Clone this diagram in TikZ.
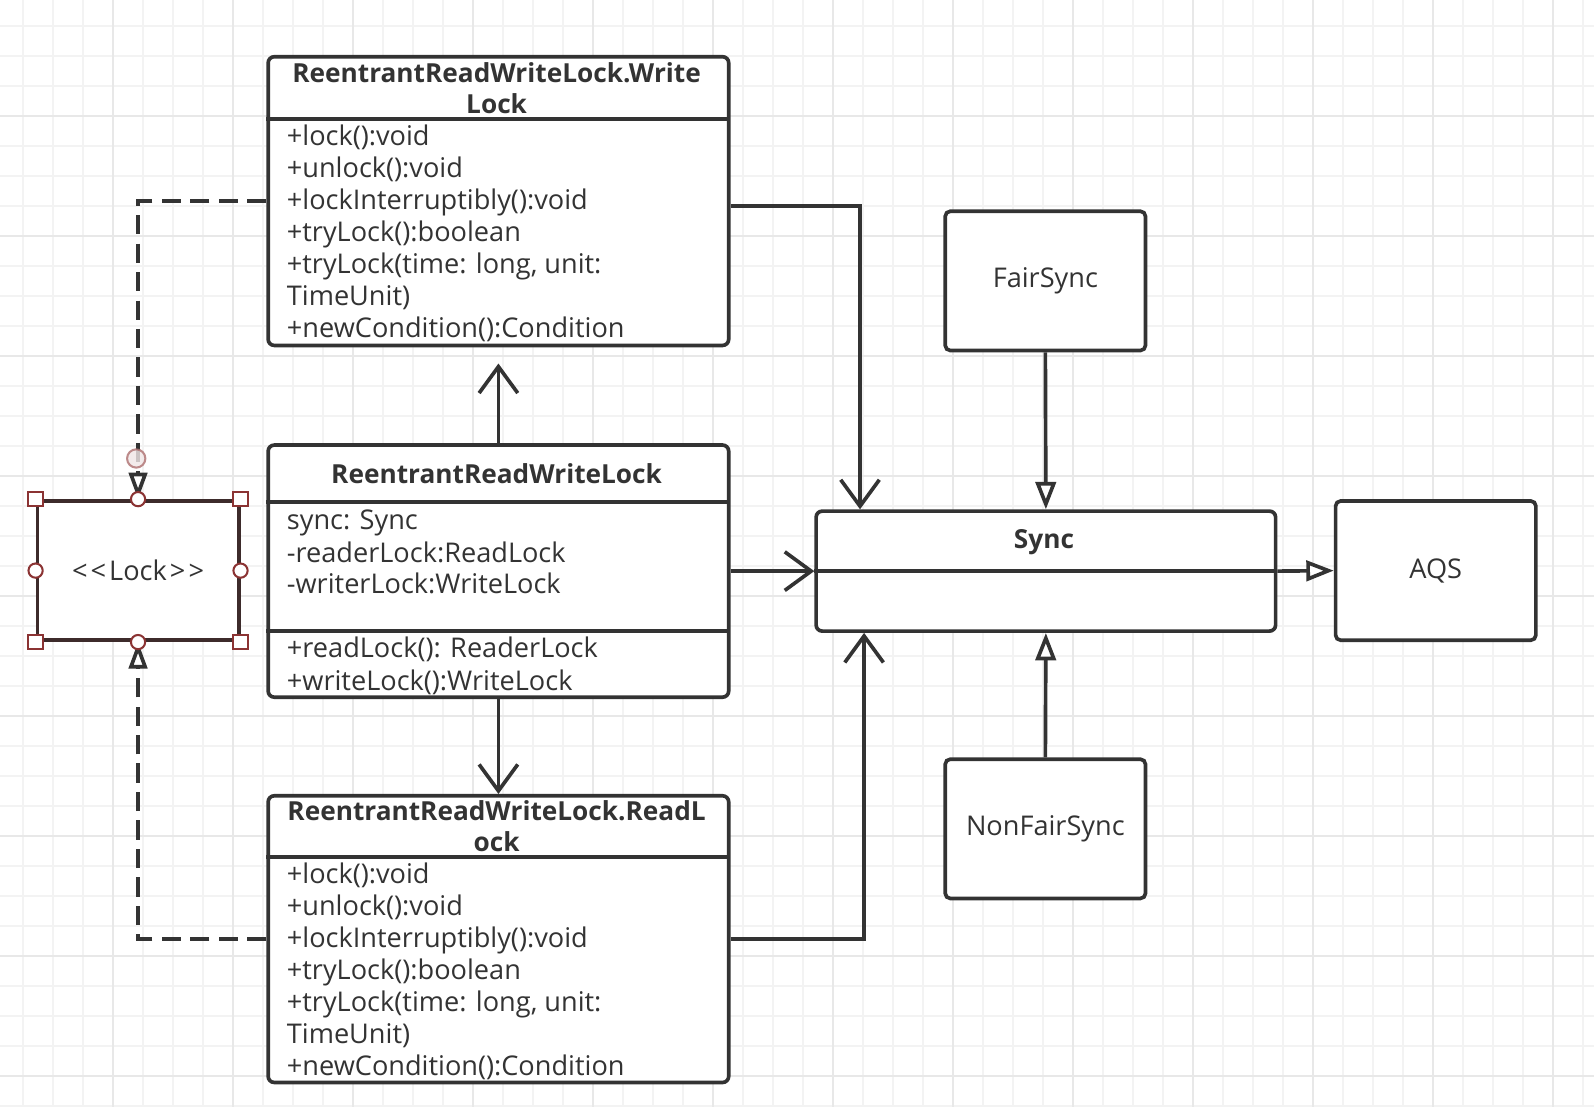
\documentclass[tikz,border=0pt]{standalone}
\usepackage{fontspec}
\setmainfont{Open Sans}
\usetikzlibrary{arrows.meta}
\definecolor{ink}{HTML}{333333}
\definecolor{gminor}{HTML}{F3F3F3}
\definecolor{gmajor}{HTML}{E8E8E8}
\definecolor{sel}{HTML}{8B3333}
\definecolor{lockb}{HTML}{3D2B2B}
\tikzset{
  cls/.style={draw=ink, line width=3.6pt, rounded corners=6pt, fill=white, inner sep=0pt, anchor=north west},
  plain/.style={draw=ink, line width=3.6pt, rounded corners=5pt, fill=white, inner sep=0pt, anchor=north west},
  txt/.style={anchor=base west, inner sep=0pt, font=\fontsize{26.7}{30}\selectfont, text=ink},
  ttl/.style={anchor=base, inner sep=0pt, font=\fontsize{25.8}{30}\selectfont\bfseries, text=ink},
  divl/.style={draw=ink, line width=3.6pt},
  assoc/.style={draw=ink, line width=3.6pt, -{Straight Barb[length=26pt,width=38pt]}},
  inher/.style={draw=ink, line width=3.6pt, -{Triangle[open,length=27pt,width=20pt,fill=white]}},
  realiz/.style={draw=ink, line width=3.6pt, dash pattern=on 19pt off 9pt, -{Triangle[open,length=26pt,width=18pt,fill=white]}},
  hsq/.style={draw=sel, fill=white, line width=2pt, minimum size=14pt, inner sep=0pt},
  hci/.style={draw=sel, fill=white, line width=2pt, circle, minimum size=14pt, inner sep=0pt},
}
\begin{document}
\begin{tikzpicture}[x=1pt,y=-1pt]
\useasboundingbox (0,0) rectangle (1568,1089);
\fill[white] (0,0) rectangle (1568,1089);
% grid
\foreach \i in {0,...,53} \draw[gminor, line width=2pt] ({22.7+29.51*\i},0) -- ({22.7+29.51*\i},1089);
\foreach \i in {0,...,36} \draw[gminor, line width=2pt] (0,{25.6+29.51*\i}) -- (1568,{25.6+29.51*\i});
\foreach \i in {0,...,12} \draw[gmajor, line width=2pt] ({111.2+118.03*\i},0) -- ({111.2+118.03*\i},1089);
\foreach \i in {1,...,9} \draw[gmajor, line width=2pt] (0,{-3.9+118.03*\i}) -- (1568,{-3.9+118.03*\i});

% WriteLock class
\node[cls, minimum width=453pt, minimum height=284pt] (wl) at (262,54) {};
\draw[divl] (262,117) -- (715,117);
\node[ttl] (wlt1) at (488.5,81) {ReentrantReadWriteLock.Write};
\node[ttl] (wlt2) at (488.5,112) {Lock};
\foreach \t [count=\i] in {{+lock():void},{+unlock():void},{+lockInterruptibly():void},{+tryLock():boolean},{+tryLock(time: long, unit:},{TimeUnit)},{+newCondition():Condition}}
  \node[txt] (wlm\i) at (282,{143+31.5*(\i-1)}) {\t};

% ReentrantReadWriteLock class
\node[cls, minimum width=453pt, minimum height=248pt] (rw) at (262,436) {};
\draw[divl] (262,494) -- (715,494);
\draw[divl] (262,621) -- (715,621);
\node[ttl] (rwt) at (488.5,476) {ReentrantReadWriteLock};
\node[txt] (rwa1) at (282,521) {sync: Sync};
\node[txt] (rwa2) at (282,553) {-readerLock:ReadLock};
\node[txt] (rwa3) at (282,584) {-writerLock:WriteLock};
\node[txt] (rwm1) at (282,647) {+readLock(): ReaderLock};
\node[txt] (rwm2) at (282,679) {+writeLock():WriteLock};

% ReadLock class
\node[cls, minimum width=453pt, minimum height=282pt] (rl) at (262,781) {};
\draw[divl] (262,843) -- (715,843);
\node[ttl] (rlt1) at (488.5,807) {ReentrantReadWriteLock.ReadL};
\node[ttl] (rlt2) at (488.5,838) {ock};
\foreach \t [count=\i] in {{+lock():void},{+unlock():void},{+lockInterruptibly():void},{+tryLock():boolean},{+tryLock(time: long, unit:},{TimeUnit)},{+newCondition():Condition}}
  \node[txt] (rlm\i) at (282,{869+31.5*(\i-1)}) {\t};

% Sync
\node[cls, minimum width=452pt, minimum height=118pt] (sync) at (801,501) {};
\node[ttl] (synct) at (1027,540) {Sync};

% FairSync, NonFairSync, AQS
\node[plain, minimum width=197pt, minimum height=137pt] (fair) at (928,206) {};
\node[txt, anchor=center] (fairt) at (fair.center) {FairSync};
\node[plain, minimum width=197pt, minimum height=137pt] (nfair) at (928,745) {};
\node[txt, anchor=center] (nfairt) at (nfair.center) {NonFairSync};
\node[plain, minimum width=197pt, minimum height=137pt] (aqs) at (1312,491) {};
\node[txt, anchor=center] (aqst) at (aqs.center) {AQS};

% Lock interface (selected)
\node[draw=lockb, line width=3.6pt, fill=white, inner sep=0pt, minimum width=198pt, minimum height=137pt, anchor=north west] (lock) at (35,491) {};
\node[txt, anchor=center] (lockt) at (lock.center) {<\kern3pt<\kern3pt Lock\kern3pt>\kern3pt>};

% connectors
\draw[assoc] ([yshift=-5pt]wl.east) -| ([xshift=45pt]sync.north west);
\draw[assoc] (rl.east) -| ([xshift=49pt]sync.south west);
\draw[assoc, shorten >=16pt] (rw.north) -- (wl.south);
\draw[assoc] (rw.south) -- (rl.north);
\draw[assoc] (rw.east) -- (sync.west);
\draw[divl] (sync.west) -- (sync.east);
\draw[inher] (sync.east) -- (aqs.west);
\draw[inher] (fair.south) -- (sync.north);
\draw[inher] (nfair.north) -- (sync.south);
\draw[realiz] (wl.west) -| (lock.north);
\draw[realiz] (rl.west) -| (lock.south);

% selection handles
\node[hci, fill=sel!12, draw=sel!70, opacity=0.8, minimum size=18pt] (hrot) at (134,451) {};
\foreach \p/\n in {north west/a,north east/b,south west/c,south east/d}
  \node[hsq] (hs\n) at (lock.\p) {};
\foreach \p/\n in {north/a,south/b,west/c,east/d}
  \node[hci] (hc\n) at (lock.\p) {};
\end{tikzpicture}
\end{document}
